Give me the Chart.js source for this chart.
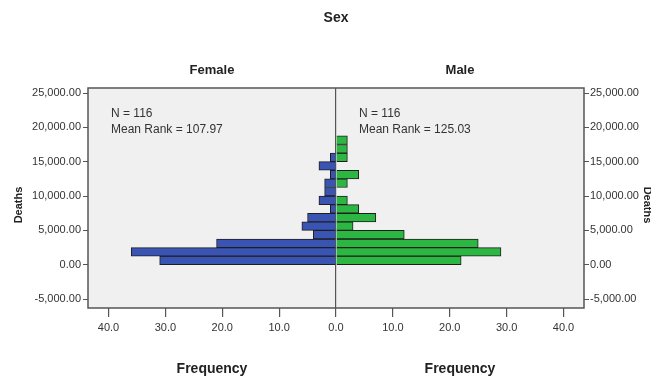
<!DOCTYPE html>
<html>
<head>
<meta charset="utf-8">
<script src="https://cdn.jsdelivr.net/npm/chart.js@4/dist/chart.umd.min.js"></script>
<style>
  html, body { margin: 0; padding: 0; background: #fff; }
  #wrap { width: 651px; height: 380px; }
</style>
</head>
<body>
<div id="wrap"><canvas id="pyramid"></canvas></div>
<script>
// histogram bins of Deaths (width 1250), counts per sex
const binStarts = [0, 1250, 2500, 3750, 5000, 6250, 7500, 8750, 10000, 11250, 12500, 13750, 15000, 16250, 17500];
const femaleFreq = [31, 36, 21, 4, 6, 5, 1, 3, 2, 2, 1, 3, 1, 0, 0];
const maleFreq = [22, 29, 25, 12, 3, 7, 4, 2, 0, 2, 4, 0, 2, 2, 2];
const binWidth = 1250;

const yTicks = [-5000, 0, 5000, 10000, 15000, 20000, 25000];
const xTicks = [-40, -30, -20, -10, 0, 10, 20, 30, 40];

const femaleStats = ["N = 116", "Mean Rank = 107.97"];
const maleStats = ["N = 116", "Mean Rank = 125.03"];

const FONT = "'Liberation Sans', Arial, sans-serif";

function toBars(freqs, sign) {
    return freqs
        .map((f, i) => ({ y: binStarts[i] + binWidth / 2, x: sign < 0 ? [-f, 0] : [0, f] }))
        .filter((d, i) => freqs[i] > 0);
}

function fmtDeaths(v) {
    return v.toLocaleString("en-US", { minimumFractionDigits: 2, maximumFractionDigits: 2 });
}

const frame = {
    id: "frame",
    beforeDraw(chart) {
        const a = chart.chartArea, c = chart.ctx;
        c.save();
        c.fillStyle = "#f0f0f0";
        c.fillRect(a.left, a.top, a.right - a.left, a.bottom - a.top);
        c.restore();
    },
    afterDraw(chart) {
        const a = chart.chartArea, c = chart.ctx;
        const x0 = chart.scales.x.getPixelForValue(0);
        const midL = (a.left + x0) / 2, midR = (x0 + a.right) / 2;
        c.save();
        c.strokeStyle = "#555";
        c.lineWidth = 1.5;
        c.strokeRect(a.left, a.top, a.right - a.left, a.bottom - a.top);

        c.fillStyle = "#222";
        c.textAlign = "center";
        c.textBaseline = "middle";
        c.font = "bold 14px " + FONT;
        c.fillText("Sex", x0, 18);
        c.font = "bold 13px " + FONT;
        c.fillText("Female", midL, 70);
        c.fillText("Male", midR, 70);
        c.font = "bold 14px " + FONT;
        c.fillText("Frequency", midL, 369);
        c.fillText("Frequency", midR, 369);

        c.font = "bold 11px " + FONT;
        c.save();
        c.translate(19, 205);
        c.rotate(-Math.PI / 2);
        c.fillText("Deaths", 0, 0);
        c.restore();
        c.save();
        c.translate(647, 205);
        c.rotate(Math.PI / 2);
        c.fillText("Deaths", 0, 0);
        c.restore();

        c.textAlign = "left";
        c.font = "12px " + FONT;
        c.fillStyle = "#333";
        femaleStats.forEach((t, i) => c.fillText(t, a.left + 23, a.top + 26 + i * 16));
        maleStats.forEach((t, i) => c.fillText(t, x0 + 23, a.top + 26 + i * 16));
        c.restore();
    }
};

new Chart(document.getElementById("pyramid"), {
    type: "bar",
    data: {
        datasets: [{
            label: "Female",
            data: toBars(femaleFreq, -1),
            backgroundColor: "rgb(58, 84, 180)",
            borderColor: "#1e1e1e",
            borderWidth: 1
        }, {
            label: "Male",
            data: toBars(maleFreq, 1),
            backgroundColor: "rgb(44, 182, 66)",
            borderColor: "#1e1e1e",
            borderWidth: 1
        }]
    },
    options: {
        indexAxis: "y",
        responsive: true,
        maintainAspectRatio: false,
        animation: false,
        grouped: false,
        barPercentage: 1,
        categoryPercentage: 1,
        layout: { padding: { top: 88, left: 0, right: 0, bottom: 0 } },
        plugins: { legend: { display: false }, tooltip: { enabled: false } },
        scales: {
            x: {
                type: "linear",
                min: -43.6,
                max: 43.6,
                offset: false,
                afterBuildTicks: s => { s.ticks = xTicks.map(v => ({ value: v })); },
                afterFit: s => { s.height = 72; },
                grid: {
                    color: c => (c.tick && c.tick.value === 0 ? "#555" : "transparent"),
                    lineWidth: 1.2,
                    tickColor: "#555",
                    tickLength: 9,
                    offset: false,
                    drawOnChartArea: true
                },
                border: { display: false },
                ticks: {
                    color: "#333",
                    font: { family: FONT, size: 11 },
                    padding: 4,
                    maxRotation: 0,
                    callback: v => Math.abs(v).toFixed(1)
                }
            },
            y: {
                type: "linear",
                position: "left",
                min: -6300,
                max: 25730,
                offset: false,
                afterBuildTicks: s => { s.ticks = yTicks.map(v => ({ value: v })); },
                afterFit: s => { s.width = 88; },
                grid: { drawOnChartArea: false, offset: false, tickColor: "#555", tickLength: 5 },
                border: { display: false },
                ticks: { color: "#333", font: { family: FONT, size: 11 }, padding: 2, callback: fmtDeaths }
            },
            y2: {
                type: "linear",
                position: "right",
                min: -6300,
                max: 25730,
                offset: false,
                afterBuildTicks: s => { s.ticks = yTicks.map(v => ({ value: v })); },
                afterFit: s => { s.width = 67; },
                grid: { drawOnChartArea: false, offset: false, tickColor: "#555", tickLength: 5 },
                border: { display: false },
                ticks: { color: "#333", font: { family: FONT, size: 11 }, padding: 1, callback: fmtDeaths }
            }
        }
    },
    plugins: [frame]
});
</script>
</body>
</html>
